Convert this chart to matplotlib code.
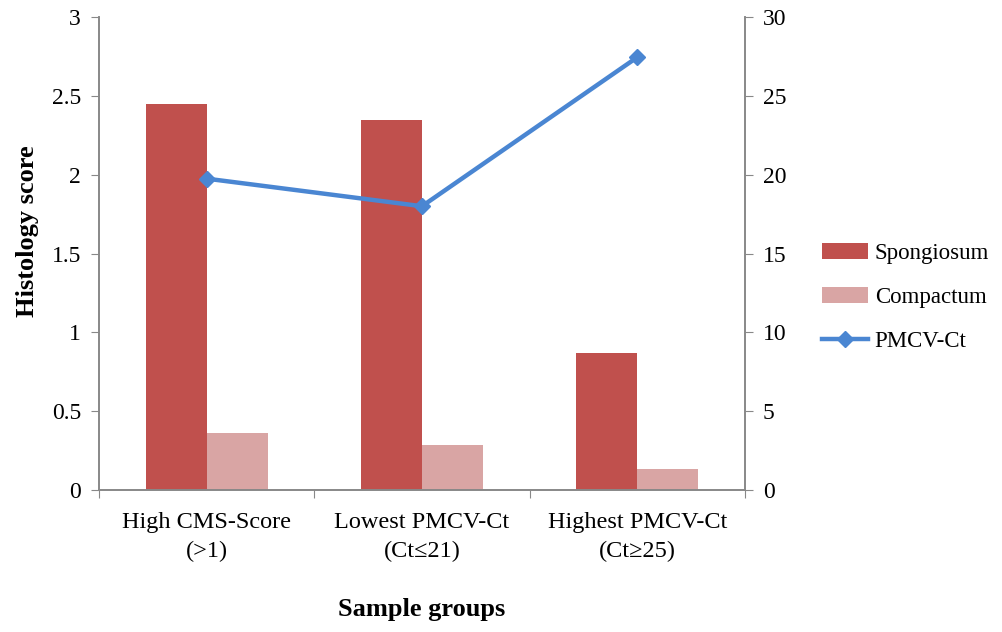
import matplotlib.pyplot as plt
import numpy as np

groups = ['High CMS-Score\n(>1)', 'Lowest PMCV-Ct\n(Ct\u226421)', 'Highest PMCV-Ct\n(Ct\u226525)']
spongiosum = [2.45, 2.35, 0.87]
compactum = [0.36, 0.285, 0.13]
pmcv_ct = [19.75, 18.0, 27.45]

left_ticks = [0, 0.5, 1, 1.5, 2, 2.5, 3]
left_labels = ['0', '0.5', '1', '1.5', '2', '2.5', '3']
right_ticks = [0, 5, 10, 15, 20, 25, 30]

plt.rcParams['font.family'] = ['Liberation Serif', 'DejaVu Serif']

fig = plt.figure(figsize=(10.03, 6.32), dpi=100)
ax = fig.add_axes([0.0987, 0.2247, 0.644, 0.7483])
ax2 = ax.twinx()

x = np.arange(len(groups))
w = 0.283
ax.bar(x - w / 2, spongiosum, w, color='#C0504D', label='Spongiosum', zorder=2)
ax.bar(x + w / 2, compactum, w, color='#D9A5A4', label='Compactum', zorder=2)
ax2.plot(x, pmcv_ct, color='#4A86D2', linewidth=3.2, marker='D', markersize=8.5,
         label='PMCV-Ct', zorder=3)

ax.set_xlim(-0.5, 2.5)
ax.set_ylim(0, 3)
ax2.set_ylim(0, 30)
ax.set_yticks(left_ticks)
ax.set_yticklabels(left_labels)
ax2.set_yticks(right_ticks)

ax.set_xticks([-0.5, 0.5, 1.5, 2.5])
ax.set_xticklabels([])
ax.set_xticks(x, minor=True)
ax.set_xticklabels(groups, minor=True, fontsize=17.5, linespacing=1.45)
ax.tick_params(axis='x', which='minor', length=0, pad=16)
ax.tick_params(axis='x', which='major', length=6, color='#888888', direction='out')

for a in (ax, ax2):
    a.spines['top'].set_visible(False)
    for s in ('left', 'right', 'bottom'):
        a.spines[s].set_color('#888888')
        a.spines[s].set_linewidth(1.2)
ax.tick_params(axis='y', labelsize=17, length=6, color='#888888', pad=7)
ax2.tick_params(axis='y', labelsize=17, length=6, color='#888888', pad=7)

ax.set_ylabel('Histology score', fontsize=19, fontweight='bold')
ax.yaxis.set_label_coords(-0.093, 0.548)
ax.set_xlabel('Sample groups', fontsize=19, fontweight='bold', labelpad=26)

h1, l1 = ax.get_legend_handles_labels()
h2, l2 = ax2.get_legend_handles_labels()
fig.legend(h1 + h2, l1 + l2, loc='center left', bbox_to_anchor=(0.8195, 0.529),
           frameon=False, fontsize=16.5, handlelength=2.0, handletextpad=0.3,
           labelspacing=1.0, borderpad=0, borderaxespad=0)

fig.savefig('out.png', dpi=100)
